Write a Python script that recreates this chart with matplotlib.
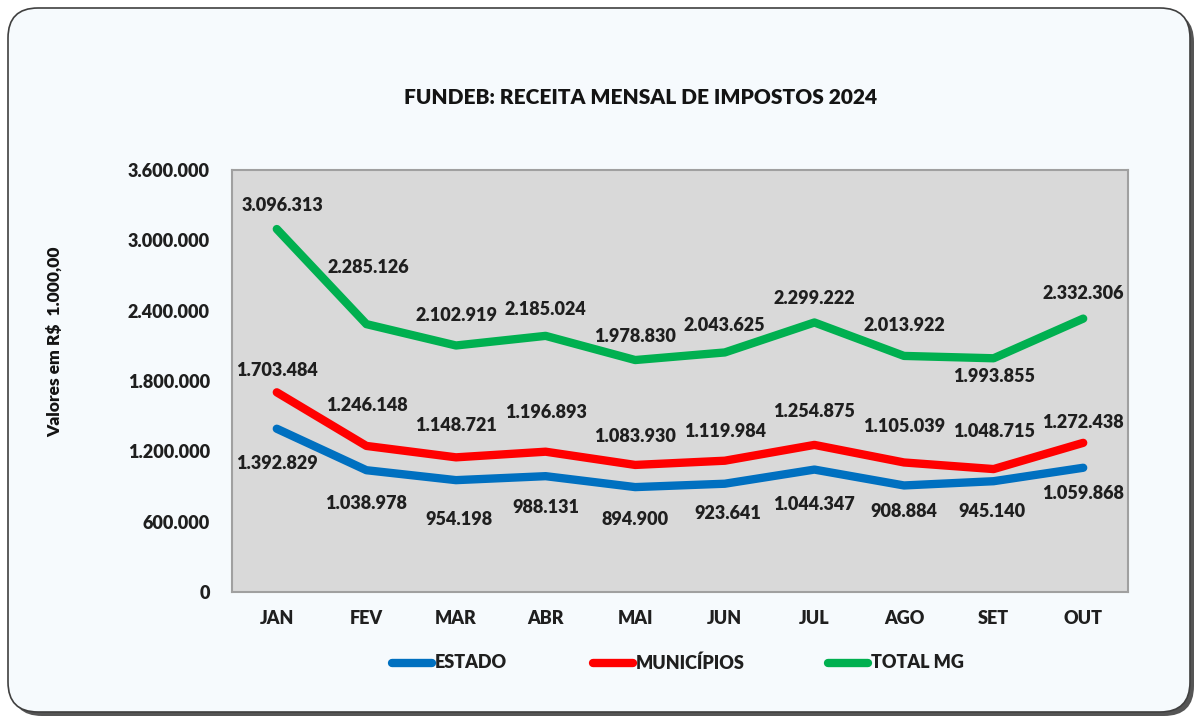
import matplotlib
matplotlib.use("Agg")
import matplotlib.pyplot as plt
from matplotlib.patches import FancyBboxPatch
from matplotlib.lines import Line2D
from matplotlib.ticker import FuncFormatter

months = ["JAN", "FEV", "MAR", "ABR", "MAI", "JUN", "JUL", "AGO", "SET", "OUT"]
estado = [1392829, 1038978, 954198, 988131, 894900, 923641, 1044347, 908884, 945140, 1059868]
municipios = [1703484, 1246148, 1148721, 1196893, 1083930, 1119984, 1254875, 1105039, 1048715, 1272438]
total_mg = [3096313, 2285126, 2102919, 2185024, 1978830, 2043625, 2299222, 2013922, 1993855, 2332306]
yticks = [0, 600000, 1200000, 1800000, 2400000, 3000000, 3600000]

# label offsets in pixels (negative = above)
off_total = [-24, -57, -30, -26, -24, -27, -24, -30, 18, -25]
off_mun = [-22, -40, -32, -39, -28, -29, -33, -36, -38, -20]
off_est = [35, 33, 39, 31, 32, 30, 35, 26, 30, 26]
dx_total = [6, 2, 0, 0, 0, 0, 0, 0, 0, 0]
dx_est = [0, 0, 3, 0, 0, 3, 0, 0, -2, 0]

FONT = "Lato"
plt.rcParams['font.family'] = [FONT, 'DejaVu Sans']
WEIGHT = "heavy"
TXT = "#1f1f1f"

def br(v):
    return f"{int(v):,}".replace(",", ".")

fig = plt.figure(figsize=(11.98, 7.2), dpi=100)
fig.patch.set_facecolor("white")
W, H = 1198, 720

# rounded frame with shadow
shadow = FancyBboxPatch((12 / W, 4 / H), 1182 / W, 704 / H,
                        boxstyle="round,pad=0,rounding_size=0.025",
                        transform=fig.transFigure, facecolor="#555555",
                        edgecolor="none", zorder=0, mutation_aspect=W / H)
frame = FancyBboxPatch((8 / W, 8 / H), 1182 / W, 704 / H,
                       boxstyle="round,pad=0,rounding_size=0.025",
                       transform=fig.transFigure, facecolor="#f6fafd",
                       edgecolor="#404040", linewidth=1.2, zorder=1,
                       mutation_aspect=W / H)
fig.patches.extend([shadow, frame])

ax = fig.add_axes([232 / W, 1 - 592 / H, 896 / W, 422 / H])
ax.set_zorder(2)
ax.set_facecolor("#d9d9d9")
for s in ax.spines.values():
    s.set_color("#a0a0a0")
    s.set_linewidth(1.5)

x = list(range(len(months)))
series = [(estado, "#0070c0", "ESTADO", off_est, dx_est),
          (municipios, "#ff0000", "MUNICÍPIOS", off_mun, [0] * 10),
          (total_mg, "#00b050", "TOTAL MG", off_total, dx_total)]
for vals, col, name, offs, dxs in series:
    ax.plot(x, vals, color=col, linewidth=6, solid_capstyle="round",
            solid_joinstyle="round", zorder=3)
    for xi, v, o, d in zip(x, vals, offs, dxs):
        ax.annotate(br(v), (xi, v), xytext=(d * 0.72, -o * 0.72),
                    textcoords="offset points", ha="center", va="center",
                    fontsize=13, fontweight=WEIGHT, color=TXT, zorder=4)

ax.set_xlim(-0.5, len(months) - 0.5)
ax.set_ylim(0, 3600000)
ax.set_yticks(yticks)
ax.yaxis.set_major_formatter(FuncFormatter(lambda v, p: br(v)))
ax.set_xticks(x)
ax.set_xticklabels(months)
ax.tick_params(length=0, labelsize=13, colors=TXT)
ax.tick_params(axis="y", pad=16)
ax.tick_params(axis="x", pad=13)
for lab in ax.get_xticklabels() + ax.get_yticklabels():
    lab.set_fontweight(WEIGHT)

fig.text(641 / W, 1 - 97 / H, "FUNDEB: RECEITA MENSAL DE IMPOSTOS 2024",
         ha="center", va="center", fontsize=15, fontweight=WEIGHT,
         color="#141414")
fig.text(55 / W, 1 - 342 / H, "Valores em R$  1.000,00", rotation=90,
         ha="center", va="center", fontsize=12.5, fontweight=WEIGHT,
         color="#141414")

# legend
leg_items = [("#0070c0", "ESTADO", 392, 432), ("#ff0000", "MUNICÍPIOS", 593, 633),
             ("#00b050", "TOTAL MG", 828, 868)]
ly = 1 - 663 / H
for col, name, x0, x1 in leg_items:
    fig.add_artist(Line2D([x0 / W, x1 / W], [ly, ly], transform=fig.transFigure,
                          color=col, linewidth=6, solid_capstyle="round", zorder=5))
    fig.text((x1 + 3) / W, ly, name, ha="left", va="center", fontsize=13,
             fontweight=WEIGHT, color=TXT, zorder=5)

fig.savefig("out.png", dpi=100, facecolor="white")
